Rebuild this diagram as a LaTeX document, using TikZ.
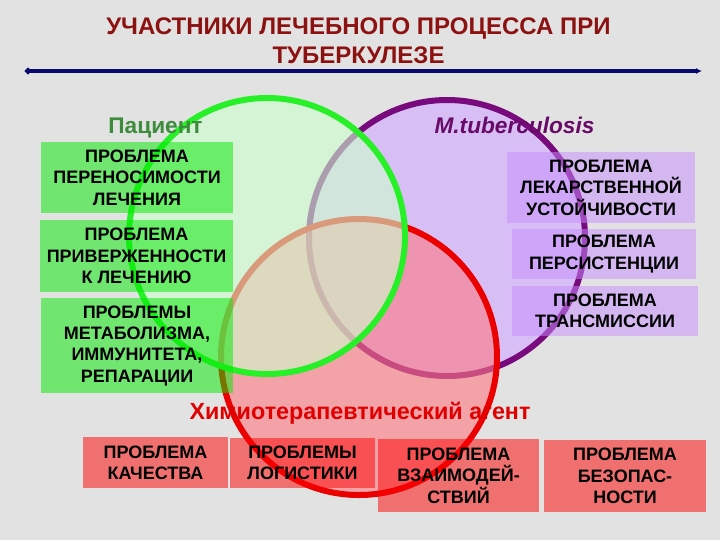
\documentclass[tikz,border=0pt]{standalone}
\usepackage{fontspec}
\setmainfont{Liberation Sans}
\usetikzlibrary{arrows.meta,positioning}
\usetikzlibrary{calc}

\definecolor{bggrey}{RGB}{226,226,226}
\definecolor{titlered}{RGB}{140,18,18}
\definecolor{rulenavy}{RGB}{10,10,110}
\definecolor{linegreen}{RGB}{40,240,40}
\definecolor{linepurple}{RGB}{120,10,125}
\definecolor{linered}{RGB}{235,0,0}
\definecolor{fillgreen}{RGB}{205,255,205}
\definecolor{fillpurple}{RGB}{212,180,252}
\definecolor{fillred}{RGB}{255,120,130}
\definecolor{boxgreen}{RGB}{0,235,0}
\definecolor{boxpurple}{RGB}{200,140,255}
\definecolor{boxred}{RGB}{255,0,0}
\definecolor{patientgreen}{RGB}{60,140,60}
\definecolor{tbpurple}{RGB}{105,10,105}
\definecolor{agentred}{RGB}{225,0,0}

\tikzset{
  titletext/.style={anchor=base, text=titlered, font=\fontsize{18}{21}\selectfont\bfseries},
  grouplabel/.style={anchor=base, font=\fontsize{17}{20}\selectfont\bfseries},
  rule/.style={draw=rulenavy, line width=2.4pt, {Circle[length=4.5pt]}-{Latex[length=4.5pt,width=4.5pt]}},
  ring/.style={line width=4.5pt, draw opacity=1},
  probbox/.style={rectangle, inner sep=0pt, align=center, text=black, text opacity=1,
    fill opacity=0.5, font=\fontsize{13.5}{16}\selectfont\bfseries},
  greenbox/.style={probbox, fill=boxgreen},
  purplebox/.style={probbox, fill=boxpurple},
  redbox/.style={probbox, fill=boxred}
}

\begin{document}
\begin{tikzpicture}[x=0.75pt, y=-0.75pt]

        % background
        \useasboundingbox (0,0) rectangle (720,540);
        \fill[bggrey] (0,0) rectangle (720,540);

        % title and rule
        \node[titletext] (title_top) at (358.5,34) {УЧАСТНИКИ ЛЕЧЕБНОГО ПРОЦЕССА ПРИ};
        \node[titletext] (title_bottom) at (358.5,63) {ТУБЕРКУЛЕЗЕ};
        \coordinate (rule_left) at (25,71);
        \coordinate (rule_right) at (702,71);
        \draw[rule] (rule_left) -- (rule_right);

        % Define center points
        \coordinate (patient_orig) at (267,236);
        \coordinate (tb_orig) at (447,238);
        \coordinate (agent_orig) at (359,357);

        % draw the circles
        \filldraw[ring, fill = fillpurple, fill opacity = 0.75, draw = linepurple] (tb_orig) circle[radius=138];
        \filldraw[ring, fill = fillred, fill opacity = 0.6, draw = linered] (agent_orig) circle[radius=138];
        \filldraw[ring, fill = fillgreen, fill opacity = 0.6, draw = linegreen] (patient_orig) circle[radius=138];

        % draw the labels
        \node[grouplabel, text = patientgreen] (patient_label) at (155.5,133) {Пациент};
        \node[grouplabel, text = tbpurple, font=\fontsize{17}{20}\selectfont\bfseries\itshape] (tb_label) at (514.5,133) {M.tuberculosis};
        \node[grouplabel, text = agentred, font=\fontsize{17.5}{20}\selectfont\bfseries] (agent_label) at (360,419) {Химиотерапевтический агент};

        % draw the patient boxes
        \node[greenbox, minimum width=144pt, minimum height=53.25pt] (tolerance) at (137,177.5) {ПРОБЛЕМА\\ПЕРЕНОСИМОСТИ\\ЛЕЧЕНИЯ};
        \node[greenbox, minimum width=144.75pt, minimum height=54pt] (adherence) at (136.5,256) {ПРОБЛЕМА\\ПРИВЕРЖЕННОСТИ\\К ЛЕЧЕНИЮ};
        \node[greenbox, minimum width=144pt, minimum height=71.25pt] (metabolism) at (137,345.5) {ПРОБЛЕМЫ\\МЕТАБОЛИЗМА,\\ИММУНИТЕТА,\\РЕПАРАЦИИ};

        % draw the pathogen boxes
        \node[purplebox, minimum width=141pt, minimum height=53.25pt] (resistance) at (601,187.5) {ПРОБЛЕМА\\ЛЕКАРСТВЕННОЙ\\УСТОЙЧИВОСТИ};
        \node[purplebox, minimum width=138pt, minimum height=37.5pt] (persistence) at (604,254) {ПРОБЛЕМА\\ПЕРСИСТЕНЦИИ};
        \node[purplebox, minimum width=139.5pt, minimum height=37.5pt] (transmission) at (605,311) {ПРОБЛЕМА\\ТРАНСМИССИИ};

        % draw the agent boxes
        \node[redbox, minimum width=108.75pt, minimum height=38.25pt] (quality) at (155.5,462.5) {ПРОБЛЕМА\\КАЧЕСТВА};
        \node[redbox, minimum width=108.75pt, minimum height=37.5pt] (logistics) at (302.5,463) {ПРОБЛЕМЫ\\ЛОГИСТИКИ};
        \node[redbox, minimum width=120.75pt, minimum height=54.75pt] (interaction) at (458.5,475.5) {ПРОБЛЕМА\\ВЗАИМОДЕЙ-\\СТВИЙ};
        \node[redbox, minimum width=121.5pt, minimum height=54pt] (safety) at (625,476) {ПРОБЛЕМА\\БЕЗОПАС-\\НОСТИ};

      \end{tikzpicture}
\end{document}
